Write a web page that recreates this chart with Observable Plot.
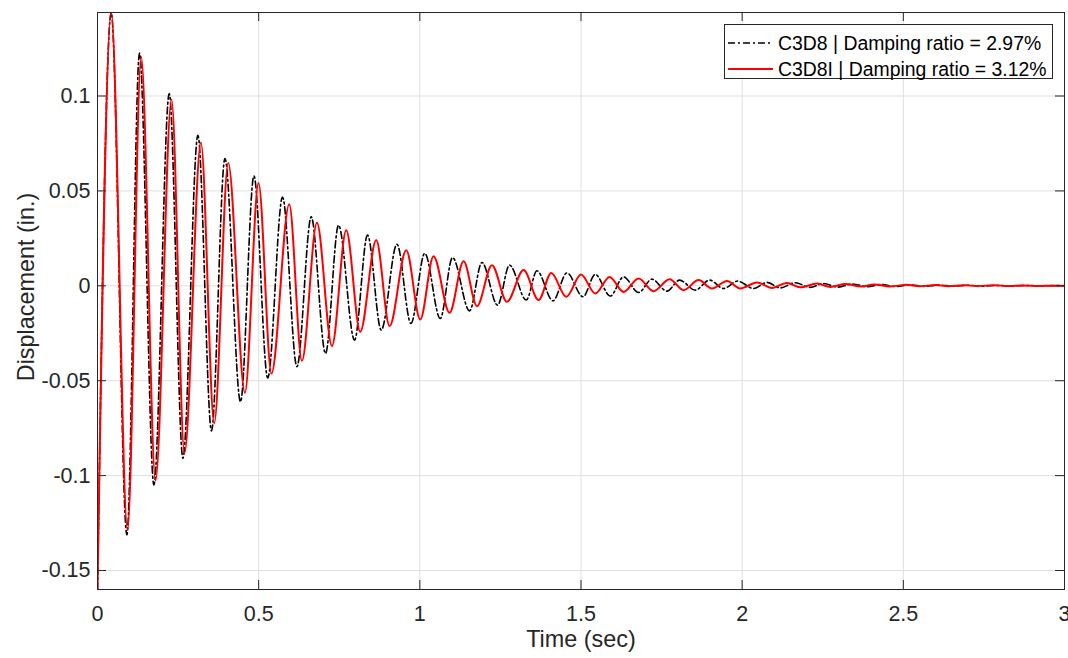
<!DOCTYPE html>
<html>
<head>
<meta charset="utf-8">
<script src="https://cdn.jsdelivr.net/npm/d3@7"></script>
<script src="https://cdn.jsdelivr.net/npm/@observablehq/plot@0.6"></script>
<style>
html, body { margin: 0; padding: 0; background: #fff; overflow: hidden; }
#wrap { position: relative; width: 1068px; height: 658px; font-family: "Liberation Sans", Arial, sans-serif; }
#legend { position: absolute; left: 724px; top: 24px; width: 329px; height: 55px; border: 1px solid #262626; background: #fff; box-sizing: border-box; }
#legend .row { position: absolute; left: 3px; height: 24px; display: flex; align-items: center; font-size: 19.4px; color: #000; white-space: nowrap; }
#legend .row svg { margin-right: 5px; }
</style>
</head>
<body>
<div id="wrap"></div>
<script>
// ---- data (extrema of each response) ----
const timeC3D8 = [0, 0.0425, 0.0912, 0.1303, 0.1750, 0.2225, 0.2650, 0.3115, 0.3537, 0.3953, 0.4437, 0.4853, 0.5281, 0.5740, 0.6187, 0.6631, 0.7074, 0.7478, 0.7974, 0.8377, 0.8802, 0.9290, 0.9724, 1.0152, 1.0633, 1.1015, 1.1542, 1.1927, 1.2411, 1.2783, 1.3302, 1.3633, 1.4130, 1.4564, 1.5061, 1.5442, 1.5908, 1.6320, 1.6786, 1.7201, 1.7667, 1.8058, 1.8545, 1.8989, 1.9423, 1.9857, 2.0354, 2.0770, 2.1182, 2.1647, 2.2113, 2.2526, 2.2980, 2.3420, 2.3880, 2.4300, 2.4760, 2.5200, 2.5650, 2.6100, 2.6550, 2.7000, 2.7450, 2.7900, 2.8350, 2.8800, 2.9250, 2.9700, 3.0];
const dispC3D8 = [-0.16, 0.1439, -0.1312, 0.1226, -0.1049, 0.1013, -0.0908, 0.0793, -0.0765, 0.0671, -0.0611, 0.0579, -0.0486, 0.0468, -0.0426, 0.0363, -0.0356, 0.0319, -0.0286, 0.0267, -0.0233, 0.0219, -0.0198, 0.0171, -0.0172, 0.0149, -0.0132, 0.0123, -0.0102, 0.0109, -0.0075, 0.0079, -0.0079, 0.0068, -0.0058, 0.0060, -0.0054, 0.0047, -0.0035, 0.0035, -0.0028, 0.0030, -0.0023, 0.0030, -0.0014, 0.0025, -0.0014, 0.0018, -0.0011, 0.0016, -0.0008, 0.0012, -0.0007, 0.0010, -0.0005, 0.0007, -0.0004, 0.0005, -0.0003, 0.0004, -0.0002, 0.0003, -0.0002, 0.0002, -0.0001, 0.0002, -0.0001, 0.0001, 0];

const timeC3D8I = [0, 0.0425, 0.0931, 0.1356, 0.1800, 0.2296, 0.2699, 0.3208, 0.3621, 0.4055, 0.4573, 0.4995, 0.5396, 0.5948, 0.6342, 0.6807, 0.7273, 0.7716, 0.8151, 0.8647, 0.9060, 0.9578, 1.0012, 1.0425, 1.0922, 1.1356, 1.1772, 1.2237, 1.2703, 1.3218, 1.3683, 1.4077, 1.4543, 1.4999, 1.5442, 1.5886, 1.6320, 1.6786, 1.7251, 1.7748, 1.8182, 1.8647, 1.9063, 1.9529, 1.9941, 2.0459, 2.0925, 2.1390, 2.1803, 2.2321, 2.2734, 2.3200, 2.3700, 2.4100, 2.4600, 2.5100, 2.5500, 2.6000, 2.6400, 2.6900, 2.7300, 2.7800, 2.8300, 2.8700, 2.9200, 2.9600, 3.0];
const dispC3D8I = [-0.16, 0.1439, -0.1286, 0.1205, -0.1026, 0.0981, -0.0882, 0.0755, -0.0724, 0.0647, -0.0563, 0.0542, -0.0462, 0.0430, -0.0395, 0.0332, -0.0317, 0.0293, -0.0242, 0.0241, -0.0212, 0.0188, -0.0177, 0.0156, -0.0142, 0.0130, -0.0107, 0.0109, -0.0084, 0.0083, -0.0075, 0.0068, -0.0058, 0.0060, -0.0040, 0.0047, -0.0032, 0.0039, -0.0028, 0.0035, -0.0023, 0.0030, -0.0014, 0.0025, -0.0014, 0.0018, -0.0011, 0.0015, -0.0008, 0.0012, -0.0006, 0.0009, -0.0004, 0.0007, -0.0003, 0.0005, -0.0002, 0.0004, -0.0002, 0.0003, -0.0001, 0.0003, -0.0001, 0.0002, -0.0001, 0.0001, 0];

const seriesNames = ["C3D8 | Damping ratio = 2.97%", "C3D8I | Damping ratio = 3.12%"];
const xTicks = [0, 0.5, 1, 1.5, 2, 2.5, 3];
const xTickLabels = ["0", "0.5", "1", "1.5", "2", "2.5", "3"];
const yTicks = [-0.15, -0.1, -0.05, 0, 0.05, 0.1];
const yTickLabels = ["-0.15", "-0.1", "-0.05", "0", "0.05", "0.1"];
const xLabel = "Time (sec)";
const yLabel = "Displacement (in.)";

// ---- build tables ----
const c3d8 = timeC3D8.map((t, i) => ({t, v: dispC3D8[i]}));
const c3d8i = timeC3D8I.map((t, i) => ({t, v: dispC3D8I[i]}));

const W = 1068, H = 658, mL = 97, mR = 4, mT = 12, mB = 69;
const innerW = W - mL - mR, innerH = H - mT - mB;
const axisColor = "#262626";
const tickLen = 9;

const chart = Plot.plot({
  width: W, height: H,
  marginLeft: mL, marginRight: mR, marginTop: mT, marginBottom: mB,
  style: {fontFamily: "'Liberation Sans', Arial, sans-serif", fontSize: "21.5px", color: axisColor, background: "white", overflow: "visible"},
  x: {domain: [0, 3]},
  y: {domain: [-0.16, 0.144]},
  marks: [
    Plot.ruleX(xTicks, {x: d => d, stroke: "#dfdfdf", strokeWidth: 1}),
    Plot.ruleY(yTicks, {y: d => d, stroke: "#dfdfdf", strokeWidth: 1}),
    Plot.line(c3d8, {x: "t", y: "v", stroke: "#000", strokeWidth: 1.6, strokeDasharray: "7,3,2,3", curve: "monotone-x", clip: true}),
    Plot.line(c3d8i, {x: "t", y: "v", stroke: "#ff0000", strokeWidth: 2, curve: "monotone-x", clip: true}),
    Plot.frame({stroke: axisColor, strokeWidth: 1}),
    Plot.tickX(xTicks, {x: d => d, insetTop: innerH - tickLen, stroke: axisColor}),
    Plot.tickX(xTicks, {x: d => d, insetBottom: innerH - tickLen, stroke: axisColor}),
    Plot.tickY(yTicks, {y: d => d, insetRight: innerW - tickLen, stroke: axisColor}),
    Plot.tickY(yTicks, {y: d => d, insetLeft: innerW - tickLen, stroke: axisColor}),
    Plot.axisX(xTicks, {tickSize: 0, tickPadding: 16, tickFormat: d => xTickLabels[xTicks.indexOf(d)], label: null, fill: axisColor}),
    Plot.axisY(yTicks, {tickSize: 0, tickPadding: 7, tickFormat: d => yTickLabels[yTicks.indexOf(d)], label: null, fill: axisColor}),
    Plot.text([xLabel], {text: d => d, frameAnchor: "bottom", dy: 57, fontSize: 23.4, fill: axisColor}),
    Plot.text([yLabel], {text: d => d, frameAnchor: "left", textAnchor: "middle", dx: -71, dy: -14, rotate: -90, fontSize: 23.4, fill: axisColor})
  ]
});

const wrap = document.getElementById("wrap");
wrap.appendChild(chart);

// ---- legend (inside the axes, top right) ----
const legend = document.createElement("div");
legend.id = "legend";
const rows = [
  {name: seriesNames[0], stroke: "#000", dash: "7,3,2,3", width: 1.4, top: 6},
  {name: seriesNames[1], stroke: "#ff0000", dash: null, width: 2, top: 32}
];
rows.forEach(r => {
  const row = document.createElement("div");
  row.className = "row";
  row.style.top = r.top + "px";
  row.innerHTML = `<svg width="45" height="10"><line x1="0" x2="45" y1="5" y2="5" stroke="${r.stroke}" stroke-width="${r.width}" ${r.dash ? `stroke-dasharray="${r.dash}"` : ""}/></svg><span>${r.name}</span>`;
  legend.appendChild(row);
});
wrap.appendChild(legend);
</script>
</body>
</html>
